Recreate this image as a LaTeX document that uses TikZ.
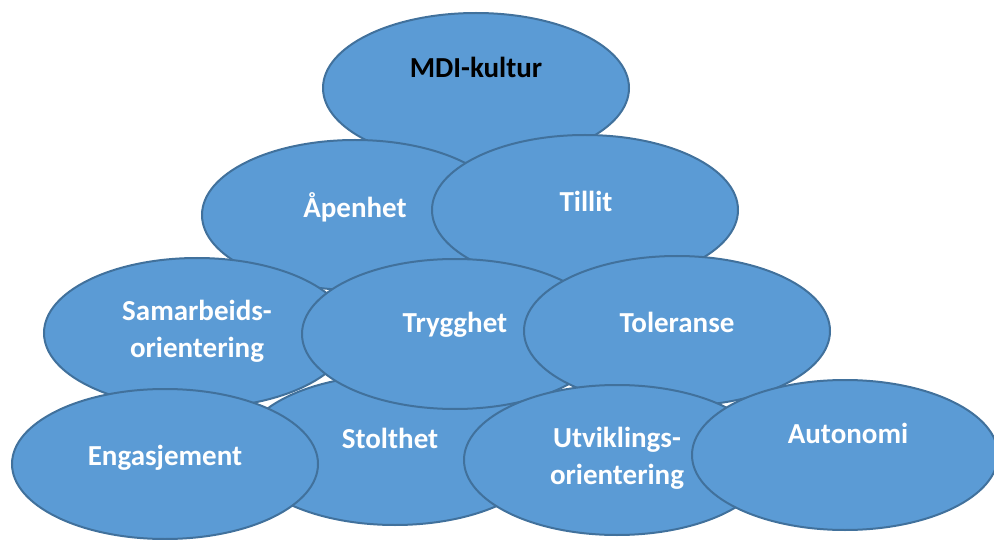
\documentclass[tikz,border=0pt]{standalone}
\usepackage{fontspec}
\setmainfont{Carlito}
\usetikzlibrary{shapes.geometric}

\definecolor{bubblefill}{HTML}{5B9BD5}
\definecolor{bubbleline}{HTML}{41719C}

\begin{document}
\begin{tikzpicture}[x=1pt,y=-1pt,
    bubble/.style={ellipse, draw=bubbleline, line width=2pt, fill=bubblefill,
        minimum width=306pt, minimum height=150pt, inner sep=0pt},
    word/.style={text=white, font=\fontsize{29}{37}\selectfont\bfseries, align=center}]
    % page size, y runs downwards
    \useasboundingbox (0,0) rectangle (994,540);

    % ellipses, back to front
    \node[bubble] (mdi) at (476,88) {};
    \node[bubble] (apenhet) at (355,215) {};
    \node[bubble] (tillit) at (585,210) {};
    \node[bubble] (stolthet) at (395,450) {};
    \node[bubble] (samarbeid) at (197,333) {};
    \node[bubble] (trygghet) at (455,334) {};
    \node[bubble] (toleranse) at (677,331) {};
    \node[bubble] (engasjement) at (165,464) {};
    \node[bubble] (utvikling) at (617,460) {};
    \node[bubble] (autonomi) at (845,455) {};

    % labels on top of everything
    \node[word, text=black] (mdilabel) at (476,67) {MDI-kultur};
    \node[word] (apenhetlabel) at (355,207) {Åpenhet};
    \node[word] (tillitlabel) at (586,201) {Tillit};
    \node[word] (samarbeidlabel) at (197,331) {Samarbeids-\\orientering};
    \node[word] (trygghetlabel) at (455,325) {Trygghet};
    \node[word] (toleranselabel) at (677,322) {Toleranse};
    \node[word] (stolthetlabel) at (390,438) {Stolthet};
    \node[word] (engasjementlabel) at (165,458) {Engasjement};
    \node[word] (utviklinglabel) at (617,458) {Utviklings-\\orientering};
    \node[word] (autonomilabel) at (848,433) {Autonomi};
\end{tikzpicture}
\end{document}
